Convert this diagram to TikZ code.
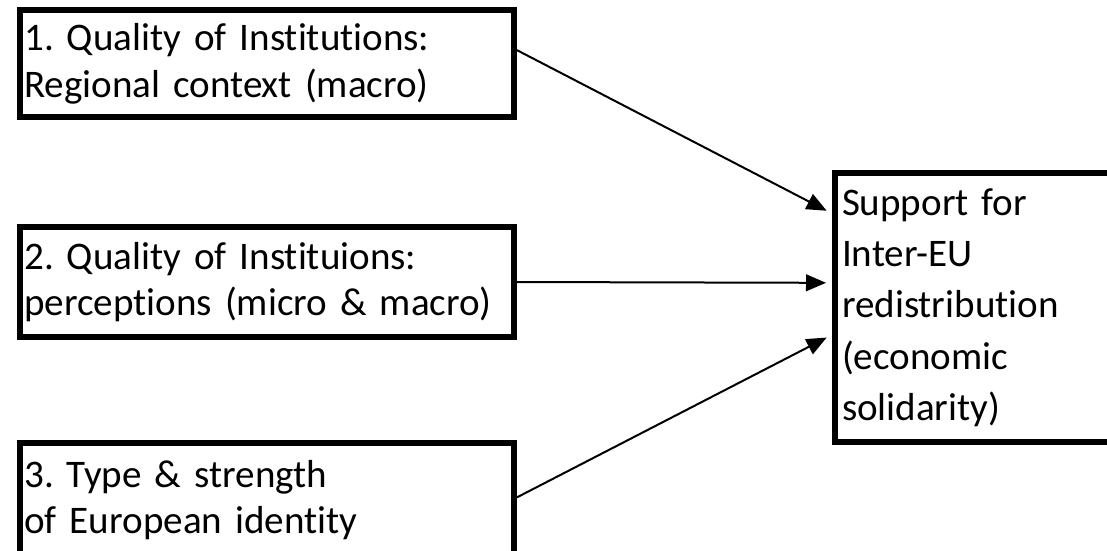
\documentclass[tikz,border=0pt]{standalone}
\usepackage{fontspec}
\setmainfont{Carlito}[Ligatures=NoCommon,WordSpace=0.8]
\usetikzlibrary{arrows.meta,positioning}
\tikzset{>={Triangle[length=15pt,width=12.5pt]}}
\frenchspacing

\begin{document}
\begin{tikzpicture}[x=0.75pt,y=-0.75pt,
  factor/.style={draw,line width=4.5pt,minimum width=370.5pt,text width=364pt,
    inner xsep=3.25pt,align=left,font=\fontsize{29.3}{35}\selectfont},
  outcome/.style={draw,line width=4.5pt,minimum width=207.75pt,minimum height=201.75pt,
    text width=197.25pt,inner xsep=5.25pt,align=left,font=\fontsize{29.3}{38.5}\selectfont},
  arr/.style={->,line width=1.5pt,shorten >=4.5pt}]
\clip (0,0) rectangle (1107,550);
\node[factor,minimum height=80.25pt] (q1) at (267,63.5) {1. Quality of Institutions:\\Regional context (macro)};
\node[factor,minimum height=82.5pt] (q2) at (267,282) {2. Quality of Instituions:\\perceptions (micro \& macro)};
\node[factor,minimum height=85.5pt] (q3) at (267,500) {3. Type \& strength\\of European identity};
\node[outcome] (sup) at (973.5,307.5) {Support for\\Inter-EU\\redistribution\\(economic\\solidarity)};
\draw[arr] ([yshift=10pt]q1.east) -- ([yshift=70.5pt]sup.west);
\draw[arr] (q2.east) -- ([yshift=18.5pt]sup.west);
\draw[arr] ([yshift=2pt]q3.east) -- ([yshift=-20.5pt]sup.west);
\end{tikzpicture}
\end{document}
